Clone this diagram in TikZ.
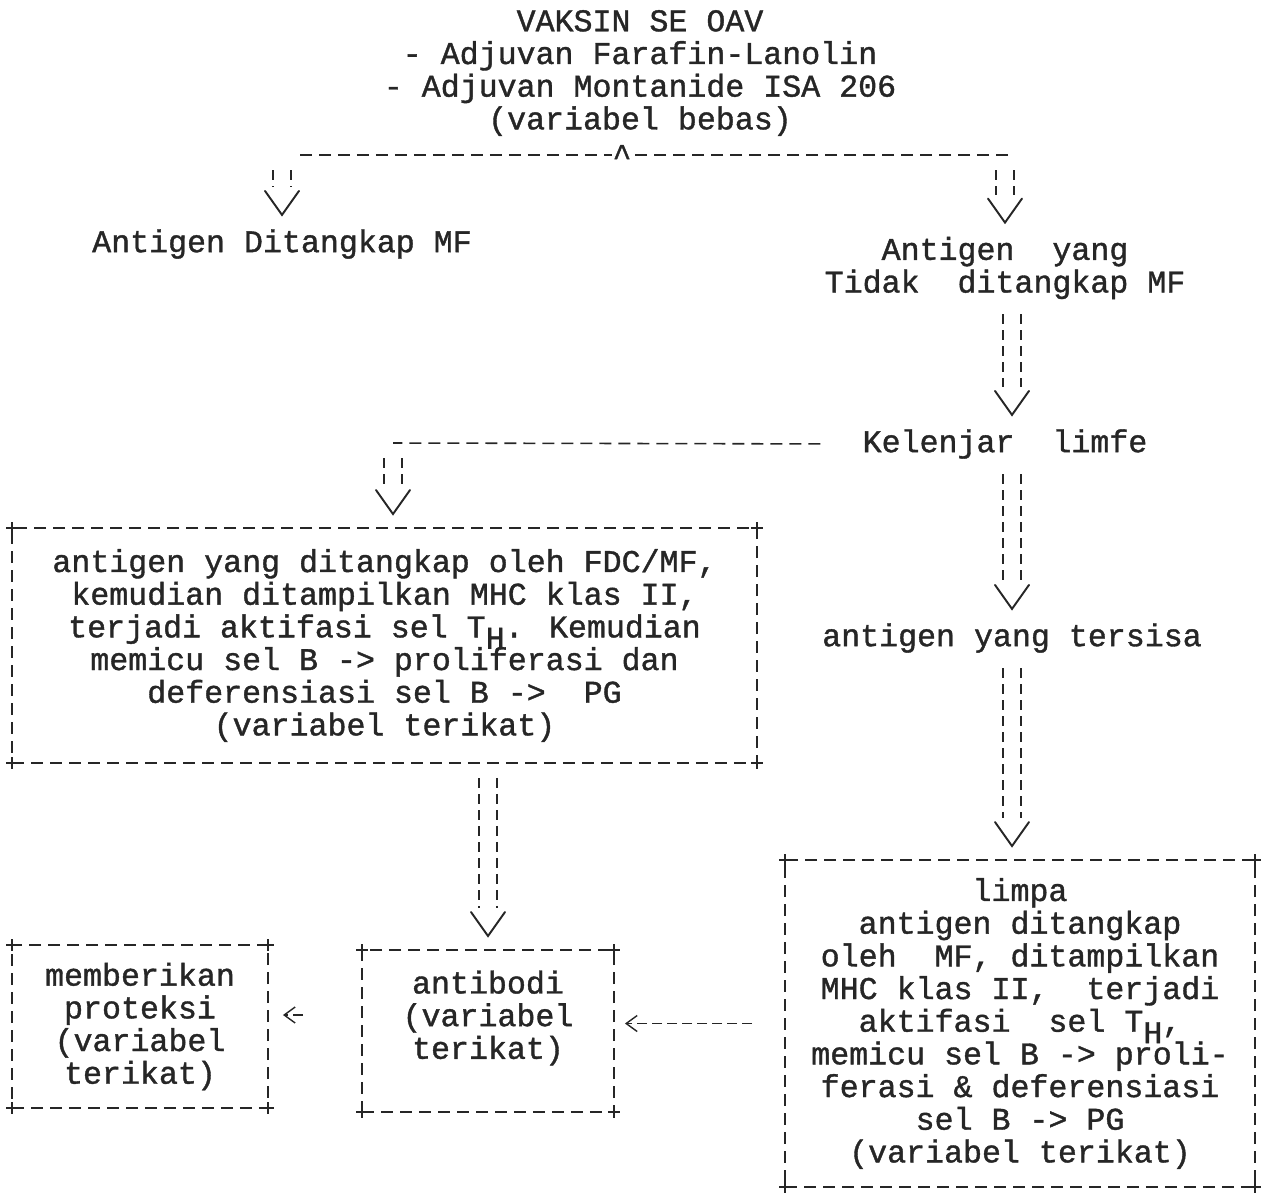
\documentclass[tikz,border=0pt]{standalone}
\usepackage{fontspec}
\newfontfamily\typer[FakeBold=1.2]{Liberation Mono}
\usetikzlibrary{arrows.meta,calc}
\definecolor{ink}{HTML}{262626}

\newcommand{\varrow}[2]{%
  \draw[shaft] ($(#1)+(0,15)$) -- ($(#2)+(0,-42)$);
  \draw[vhead] ($(#2)+(-17,-38)$) -- ($(#2)+(0,-14)$) -- ($(#2)+(17,-38)$);
}
\newcommand{\lowH}{\smash{\raisebox{-6.5pt}{H}}}

\begin{document}
\begin{tikzpicture}[x=0.02cm, y=-0.02cm,
  txt/.style={inner sep=0pt, align=center, text=ink, font=\typer\fontsize{18pt}{18.6pt}\selectfont},
  box/.style 2 args={txt, rectangle, draw=ink, line width=0.9pt, outer sep=0pt, dash pattern=on 0.24cm off 0.14cm,
    minimum width=#1, minimum height=#2},
  hline/.style={draw=ink, line width=0.9pt, dash pattern=on 0.24cm off 0.14cm},
  shaft/.style={draw=ink, line width=0.8pt, double=white, double distance=9.4pt, dash pattern=on 0.2cm off 0.12cm},
  vhead/.style={draw=ink, line width=1.1pt, line cap=round},
  harrow/.style={-{Straight Barb[length=0.22cm, width=0.32cm]}, draw=ink, line width=0.8pt, dash pattern=on 0.2cm off 0.1cm},
  plus/.style={draw=ink, line width=0.9pt}
]
  \useasboundingbox (0,0) rectangle (1261,1194);

  \node[txt] (vaksin) at (640,73) {VAKSIN SE OAV\\- Adjuvan Farafin-Lanolin\\- Adjuvan Montanide ISA 206\\(variabel bebas)};
  \node[txt, anchor=base] (caret) at (622,166) {\textasciicircum};
  \coordinate (splitL) at (300,155);
  \coordinate (splitR) at (1008,155);

  \node[txt] (ditangkap) at (282,244) {Antigen Ditangkap MF};
  \node[txt] (tidak) at (1005,268) {Antigen~~yang\\Tidak~~ditangkap MF};
  \node[txt] (kelenjar) at (1005,444) {Kelenjar~~limfe};
  \coordinate (branch) at (393,443);
  \node[txt] (tersisa) at (1012,638) {antigen yang tersisa};

  \node[box={14.9cm}{4.7cm}] (fdc) at (384.5,645.5) {antigen yang ditangkap oleh FDC/MF,\\kemudian ditampilkan MHC klas II,\\terjadi aktifasi sel T\lowH. Kemudian\\memicu sel B -> proliferasi dan\\deferensiasi sel B ->~~PG\\(variabel terikat)};
  \node[box={9.4cm}{6.54cm}] (limpa) at (1020,1023.5) {limpa\\antigen ditangkap\\oleh~~MF, ditampilkan\\MHC klas II,~~terjadi\\aktifasi~~sel T\lowH,\\memicu sel B -> proli-\\ferasi \& deferensiasi\\sel B -> PG\\(variabel terikat)};
  \node[box={5.04cm}{3.24cm}] (antibodi) at (488,1031) {antibodi\\(variabel\\terikat)\\\mbox{}};
  \node[box={5.12cm}{3.26cm}] (proteksi) at (140,1026.5) {memberikan\\proteksi\\(variabel\\terikat)};

  \foreach \b in {fdc,limpa,antibodi,proteksi}
    \foreach \c in {north west,north east,south west,south east}
      \draw[plus] (\b.\c) +(-6,0) -- +(6,0) +(0,-6) -- +(0,6);

  \draw[hline, shorten >=0.2cm] (splitL) -- (caret |- splitL);
  \draw[hline, shorten >=0.2cm] (splitR) -- (caret |- splitR);
  \draw[hline, shorten <=0.84cm] (kelenjar.west) -- (branch);

  \varrow{ditangkap.north |- splitL}{ditangkap.north}
  \varrow{tidak.north |- splitR}{tidak.north}
  \varrow{tidak.south -| tersisa}{kelenjar.north -| tersisa}
  \varrow{kelenjar.south -| tersisa}{tersisa.north}
  \varrow{tersisa.south}{tersisa.south |- limpa.north}
  \varrow{branch}{branch |- fdc.north}
  \varrow{antibodi.north |- fdc.south}{antibodi.north}

  \draw[harrow, shorten <=0.66cm, shorten >=0.22cm] (limpa.west) -- (limpa.west -| antibodi.east);
  \draw[harrow, shorten <=1.18cm, shorten >=0.3cm] ($(antibodi.west)+(0,-16)$) -- ($(antibodi.west -| proteksi.east)+(0,-16)$);
\end{tikzpicture}
\end{document}
